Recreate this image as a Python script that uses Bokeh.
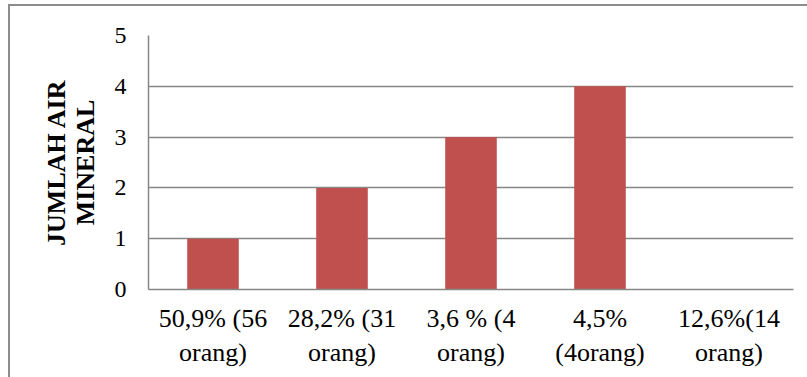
from bokeh.plotting import figure
from bokeh.models import FactorRange, Range1d, FixedTicker, ColumnDataSource, InlineStyleSheet
from bokeh.embed import file_html
from bokeh.resources import INLINE

# Categories (share of respondents) and number of mineral-water bottles
categories = [
    "50,9% (56\norang)",
    "28,2% (31\norang)",
    "3,6 % (4\norang)",
    "4,5%\n(4orang)",
    "12,6%(14\norang)",
]
jumlah = [1, 2, 3, 4, 0]
y_ticks = [0, 1, 2, 3, 4, 5]

FONT = "Liberation Serif"
GRID = "#868686"
BAR = "#C0504D"

src = ColumnDataSource(dict(cat=categories, val=jumlah))

p = figure(
    width=807, height=377,
    x_range=FactorRange(*categories, range_padding=0),
    y_range=Range1d(0, 5),
    output_backend="svg", toolbar_location=None,
    min_border_left=148, min_border_right=14,
    min_border_top=35, min_border_bottom=88,
)
p.outline_line_color = None
p.background_fill_color = "white"
p.border_fill_color = "white"

p.vbar(x="cat", top="val", width=0.4, source=src, fill_color=BAR, line_color=None)

# grid
p.xgrid.grid_line_color = None
p.ygrid.grid_line_color = GRID
p.ygrid.grid_line_width = 1.3
p.yaxis.ticker = FixedTicker(ticks=y_ticks)

# axes
for ax in (p.xaxis[0], p.yaxis[0]):
    ax.axis_line_color = GRID
    ax.axis_line_width = 1.5
    ax.major_tick_line_color = None
    ax.minor_tick_line_color = None
    ax.major_tick_out = 0
    ax.major_tick_in = 0
    ax.major_label_text_font = FONT
    ax.major_label_text_color = "black"

p.yaxis.major_label_text_font_size = "24px"
p.yaxis.major_label_standoff = 22
p.xaxis.major_label_text_font_size = "26px"
p.xaxis.major_label_standoff = 14
p.xaxis.major_label_orientation = "horizontal"

p.yaxis.axis_label = "JUMLAH AIR\nMINERAL"
p.yaxis.axis_label_text_font = FONT
p.yaxis.axis_label_text_font_style = "bold"
p.yaxis.axis_label_text_font_size = "26px"
p.yaxis.axis_label_text_line_height = 1.0
p.yaxis.axis_label_text_color = "black"
p.yaxis.axis_label_standoff = 12

# outer chart border (open to the right and bottom)
p.stylesheets = [InlineStyleSheet(css="""
:host { position: relative; overflow: hidden; }
:host::after {
  content: "";
  position: absolute;
  left: 8px; top: 4px;
  width: 1200px; height: 1000px;
  border: 2px solid #8c8c8c;
  pointer-events: none;
}
""")]

open("out.html", "w").write(file_html(p, INLINE))
